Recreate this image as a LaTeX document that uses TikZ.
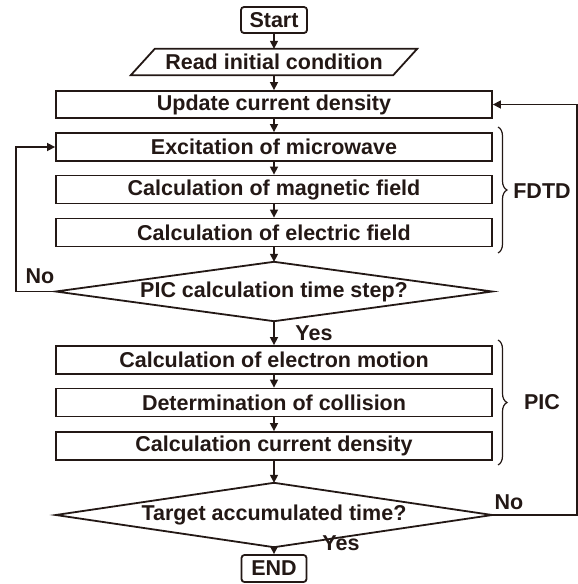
\documentclass[tikz,border=0pt]{standalone}
\usepackage{fontspec}
\setmainfont{Liberation Sans}
\usetikzlibrary{arrows.meta,decorations.pathreplacing,calc}
\definecolor{ink}{RGB}{35,24,21}
\begin{document}
\begin{tikzpicture}[x=1pt,y=-1pt,
  every node/.style={font=\fontsize{21.5}{25}\selectfont\bfseries, text=ink, inner sep=0pt},
  procbox/.style={draw=ink, line width=1.8pt, minimum width=436pt, minimum height=28pt},
  termbox/.style={draw=ink, line width=1.8pt, rounded corners=3pt, minimum height=26pt},
  shapeline/.style={draw=ink, line width=1.8pt, line join=miter},
  arr/.style={draw=ink, line width=1.5pt, -{Triangle[length=8pt,width=8pt]}},
  brc/.style={draw=ink, line width=1.2pt, decorate, decoration={brace, amplitude=9pt}},
  lbl/.style={}]
\useasboundingbox (0,0) rectangle (578,584);
\node[termbox, minimum width=66pt] (start) at (274,20) {Start};
\node[minimum width=262pt, minimum height=26pt] (read) at (274,62) {Read initial condition};
\draw[shapeline] ([xshift=-12pt]read.south west) -- ([xshift=12pt]read.north west)
  -- ([xshift=12pt]read.north east) -- ([xshift=-12pt]read.south east) -- cycle;
\node[procbox, minimum height=27pt] (upd) at (274,104.5) {Update current density};
\node[procbox] (exc) at (274,147) {Excitation of microwave};
\node[procbox] (mag) at (274,189.5) {Calculation of magnetic field};
\node[procbox] (ele) at (274,232.5) {Calculation of electric field};
\node[minimum width=436pt, minimum height=59pt] (d1) at (274,291.5) {PIC calculation time step?};
\draw[shapeline] (d1.west) -- (d1.north) -- (d1.east) -- (d1.south) -- cycle;
\node[procbox] (em) at (274,360) {Calculation of electron motion};
\node[procbox] (col) at (274,402.5) {Determination of collision};
\node[procbox] (cur) at (274,446) {Calculation current density};
\node[minimum width=436pt, minimum height=64pt] (d2) at (274,515) {Target accumulated time?};
\draw[shapeline] (d2.west) -- (d2.north) -- (d2.east) -- (d2.south) -- cycle;
\node[termbox, minimum width=65pt, minimum height=27pt] (end) at (274,568.5) {END};
% connectors
\draw[arr] (start.south) -- (read.north);
\draw[arr] (read.south) -- (upd.north);
\draw[arr] (upd.south) -- (exc.north);
\draw[arr] (exc.south) -- (mag.north);
\draw[arr] (mag.south) -- (ele.north);
\draw[arr] (ele.south) -- (d1.north);
\draw[arr] (d1.south) -- (em.north);
\draw[arr] (em.south) -- (col.north);
\draw[arr] (col.south) -- (cur.north);
\draw[arr] (cur.south) -- (d2.north);
\draw[arr] (d2.south) -- (end.north);
\draw[arr] (d1.west) -- ++(-40,0) |- (exc.west);
\draw[arr] (d2.east) -- ++(85,0) |- (upd.east);
% labels
\node[lbl] (no1) at (40,276) {No};
\node[lbl] (yes1) at (314,333) {Yes};
\node[lbl] (no2) at (509,502) {No};
\node[lbl] (yes2) at (341,543) {Yes};
% braces
\coordinate (fa) at (498,127);
\coordinate (fb) at (498,253);
\draw[brc] (fa) -- (fb);
\node[lbl] (fdtd) at (542,191) {FDTD};
\coordinate (pa) at (498,340);
\coordinate (pb) at (498,465);
\draw[brc] (pa) -- (pb);
\node[lbl] (pic) at (542,402.5) {PIC};
\end{tikzpicture}
\end{document}
